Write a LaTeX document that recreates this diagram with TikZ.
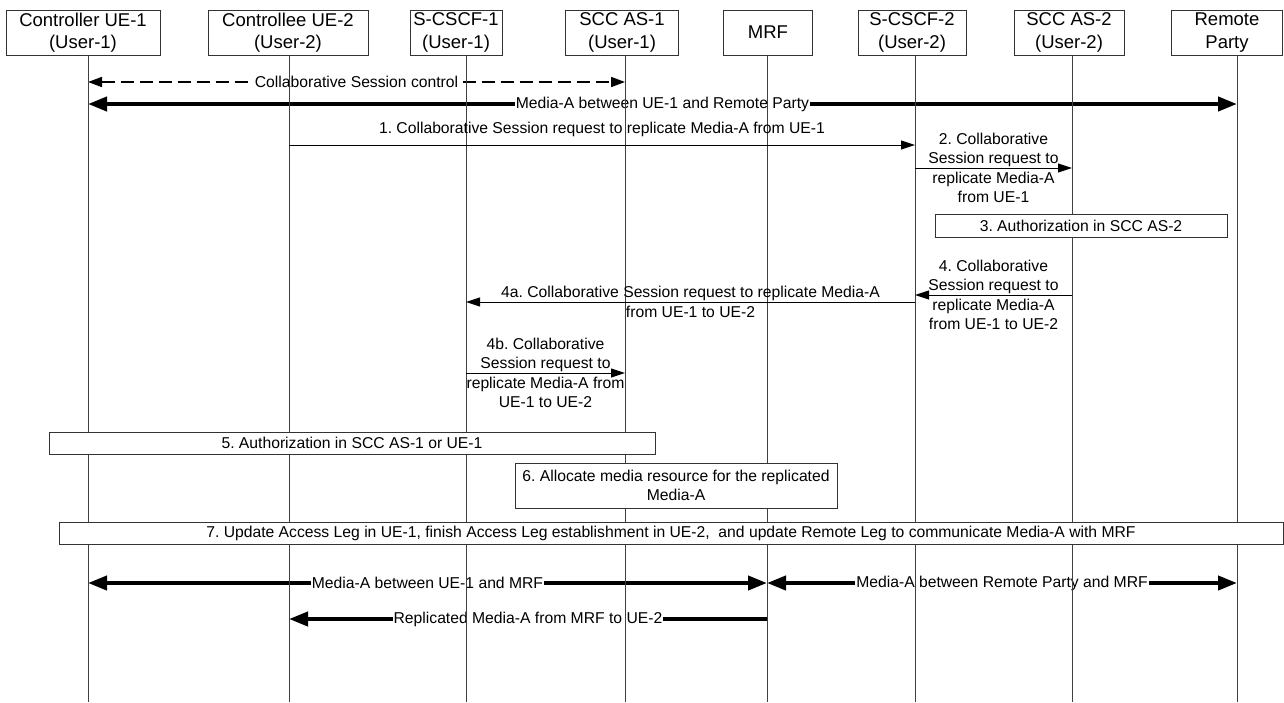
\documentclass[tikz,border=0pt]{standalone}
\usepackage{fontspec}
\setmainfont{Liberation Sans}
\usetikzlibrary{arrows.meta}
\frenchspacing

\newcommand\hdfont{\fontsize{18.5}{22.5}\selectfont}
\newcommand\msgfont{\fontsize{15.7}{19.5}\selectfont}

\tikzset{
  head/.style={draw=black!80,line width=1pt,fill=white,minimum height=45pt,align=center,inner sep=0pt,font=\hdfont},
  life/.style={draw=black!75,line width=1pt},
  msg/.style={line width=1pt,-{Triangle[length=14pt,width=9pt]}},
  ctrl/.style={line width=1.6pt,dash pattern=on 13pt off 6pt,{Triangle[length=14pt,width=10pt]}-{Triangle[length=14pt,width=10pt]}},
  bigtip/.tip={Triangle[length=19pt,width=14pt]},
  media/.style={line width=4pt},
  lbl/.style={font=\msgfont,align=center,inner sep=0pt},
  mlbl/.style={lbl,fill=white,inner xsep=1pt,inner ysep=2pt},
  stepbox/.style={draw=black!80,line width=1pt,fill=white,font=\msgfont,align=center,inner sep=0pt},
}

\begin{document}
\begin{tikzpicture}[x=1pt,y=-1pt]
  \useasboundingbox (0,0) rectangle (1284,702);
  \foreach \n/\x in {ue1/88,ue2/289,cscf1/466,as1/625,mrf/767,cscf2/915,as2/1072,rp/1237}
    \coordinate (\n-end) at (\x,702);

  \node[head,minimum width=154pt] (ue1) at (83,32.5) {Controller UE-1\\(User-1)};
  \node[head,minimum width=160pt] (ue2) at (288,32.5) {Controllee UE-2\\(User-2)};
  \node[head,minimum width=92pt] (cscf1) at (456,32.5) {S-CSCF-1\\(User-1)};
  \node[head,minimum width=113pt] (as1) at (622,32.5) {SCC AS-1\\(User-1)};
  \node[head,minimum width=89pt] (mrf) at (768,32.5) {MRF};
  \node[head,minimum width=108pt] (cscf2) at (912,32.5) {S-CSCF-2\\(User-2)};
  \node[head,minimum width=110pt] (as2) at (1069,32.5) {SCC AS-2\\(User-2)};
  \node[head,minimum width=111pt] (rp) at (1227,32.5) {Remote\\Party};

  \draw[ctrl] (ue1-end |- 0,82) -- (as1-end |- 0,82) node[midway,mlbl] (ctl) {Collaborative Session control};
  \draw[media,bigtip-bigtip] (ue1-end |- 0,104) -- (rp-end |- 0,104) node[midway,mlbl] (ma1) {Media-A between UE-1 and Remote Party};
  \draw[media,bigtip-bigtip] (ue1-end |- 0,583) -- (mrf-end |- 0,583) node[midway,mlbl] (ma2) {Media-A between UE-1 and MRF};
  \draw[media,bigtip-bigtip] (mrf-end |- 0,583) -- (rp-end |- 0,583) node[midway,mlbl] (ma3) {Media-A between Remote Party and MRF};
  \draw[media,-bigtip] (mrf-end |- 0,619) -- (ue2-end |- 0,619) node[midway,mlbl] (rep) {Replicated Media-A from MRF to UE-2};

  \foreach \n in {ue1,ue2,cscf1,as1,mrf,cscf2,as2,rp}
    \draw[life] (\n.south -| \n-end) -- (\n-end);

  \node[stepbox,minimum width=292pt,minimum height=23pt] (s3) at (1081,225.5) {3. Authorization in SCC AS-2};
  \node[stepbox,minimum width=606pt,minimum height=22pt] (s5) at (352,443) {5. Authorization in SCC AS-1 or UE-1};
  \node[stepbox,minimum width=322pt,minimum height=45pt] (s6) at (676,485.5) {6. Allocate media resource for the replicated\\Media-A};
  \node[stepbox,minimum width=1224pt,minimum height=22pt] (s7) at (671,533) {7. Update Access Leg in UE-1, finish Access Leg establishment in UE-2,\ \ and update Remote Leg to communicate Media-A with MRF};

  \draw[msg] (ue2-end |- 0,145) -- (cscf2-end |- 0,145) node[midway,above=7.7pt,lbl] (m1) {1. Collaborative Session request to replicate Media-A from UE-1};
  \draw[msg] (cscf2-end |- 0,168) -- (as2-end |- 0,168) node[midway,lbl] (m2) {2. Collaborative\\Session request to\\replicate Media-A\\from UE-1};
  \draw[msg] (as2-end |- 0,295) -- (cscf2-end |- 0,295) node[midway,lbl] (m4) {4. Collaborative\\Session request to\\replicate Media-A\\from UE-1 to UE-2};
  \draw[msg] (cscf2-end |- 0,302) -- (cscf1-end |- 0,302) node[midway,lbl] (m4a) {4a. Collaborative Session request to replicate Media-A\\from UE-1 to UE-2};
  \draw[msg] (cscf1-end |- 0,373) -- (as1-end |- 0,373) node[midway,lbl] (m4b) {4b. Collaborative\\Session request to\\replicate Media-A from\\UE-1 to UE-2};
\end{tikzpicture}
\end{document}
